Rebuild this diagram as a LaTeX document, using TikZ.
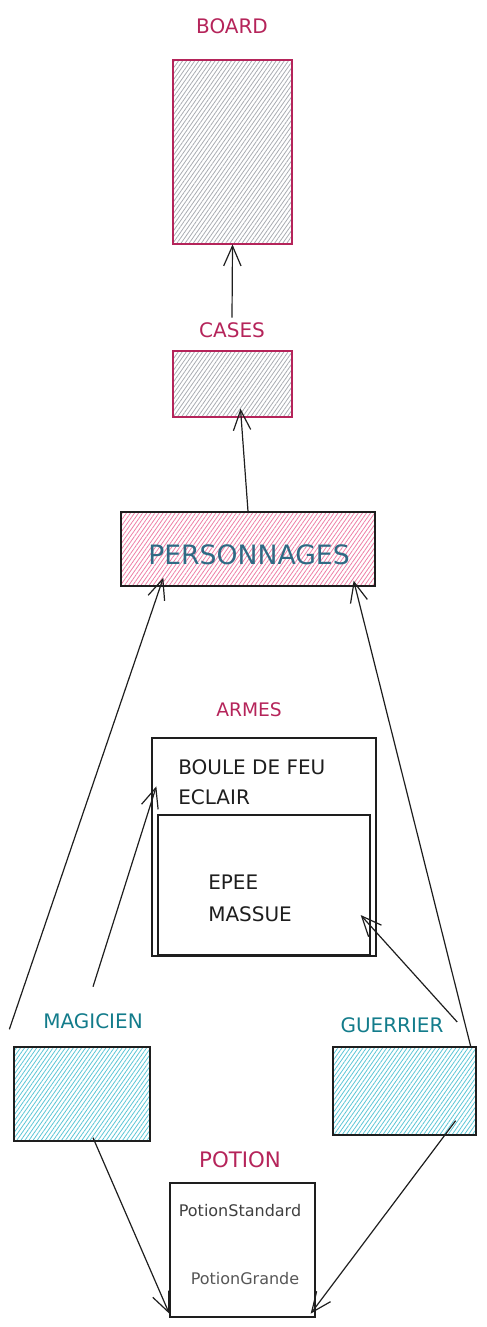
\documentclass[tikz,border=0pt]{standalone}
\usepackage{fontspec}
\setmainfont{DejaVu Sans}
\usetikzlibrary{calc,fit,patterns.meta,arrows.meta}
\definecolor{crimson}{HTML}{B5245A}
\definecolor{tealtxt}{HTML}{137C8B}
\definecolor{persotxt}{HTML}{2F6A84}
\definecolor{hatchgrey}{HTML}{A9ACB2}
\definecolor{hatchpink}{HTML}{EE7FA6}
\definecolor{hatchcyan}{HTML}{5CC6D6}
\definecolor{ink}{HTML}{1E1E1E}

\begin{document}
\begin{tikzpicture}[x=0.75pt,y=-0.75pt,>={Straight Barb[length=15pt,width=13pt]},
    box/.style={draw=ink,inner sep=0pt,line width=1pt},
    greyfill/.style={pattern={Lines[angle=55,distance=2.5pt,line width=0.6pt]},pattern color=hatchgrey},
    pinkfill/.style={pattern={Lines[angle=55,distance=2.5pt,line width=0.6pt]},pattern color=hatchpink},
    cyanfill/.style={pattern={Lines[angle=55,distance=2.5pt,line width=0.6pt]},pattern color=hatchcyan},
    title/.style={text=crimson,font=\fontsize{15}{17}\selectfont},
    role/.style={text=tealtxt,font=\fontsize{15}{17}\selectfont},
    item/.style={text=ink,font=\fontsize{15}{17}\selectfont,anchor=west,inner sep=0pt},
    small/.style={text=ink!85,font=\fontsize{12}{14}\selectfont,inner sep=0pt},
    arr/.style={->,draw=ink,line width=0.9pt}
  ]
    \useasboundingbox (0,0) rectangle (486,1327);

    \node[title] (boardlabel) at (232,26) {BOARD};
    \node[box,draw=crimson,greyfill,fit={(173,60) (292,244)}] (board) {};

    \node[title] (caseslabel) at (232,330) {CASES};
    \node[box,draw=crimson,greyfill,fit={(173,351) (292,417)}] (cases) {};

    \node[box,pinkfill,fit={(121,512) (375,586)}] (perso) {};
    \node[text=persotxt,font=\fontsize{20}{22}\selectfont] (persotext) at (249,555) {PERSONNAGES};

    \node[title,font=\fontsize{14}{16}\selectfont] (armeslabel) at (249,710) {ARMES};
    \node[box,fit={(152,738) (376,956)}] (armes) {};
    \node[box,fit={(158,815) (370,955)}] (armesbas) {};
    \node[item] (boule) at (178,767) {BOULE DE FEU};
    \node[item] (eclair) at (178,797) {ECLAIR};
    \node[item] (epee) at (208,882) {EPEE};
    \node[item] (massue) at (208,914) {MASSUE};

    \node[role] (maglabel) at (93,1021) {MAGICIEN};
    \node[box,cyanfill,fit={(14,1047) (150,1141)}] (magicien) {};
    \node[role] (guerlabel) at (392,1025) {GUERRIER};
    \node[box,cyanfill,fit={(333,1047) (476,1135)}] (guerrier) {};

    \node[title,font=\fontsize{16}{18}\selectfont] (potionlabel) at (240,1160) {POTION};
    \node[box,fit={(170,1183) (315,1317)}] (potion) {};
    \node[small] (pstandard) at (240,1211) {PotionStandard};
    \node[small,text=ink!75] (pgrande) at (245,1279) {PotionGrande};

    \path
    (caseslabel.north)                    edge[arr] (board.south)
    (perso.north)                         edge[arr] ($(cases.south)+(8,-9)$)
    ($(magicien.north west)+(-4,-17)$)    edge[arr] ($(perso.south west)+(43,-9)$)
    ($(maglabel.north)+(0,-22)$)          edge[arr] ($(armes.north west)+(5,49)$)
    ($(guerrier.north east)+(-6,0)$)      edge[arr] ($(perso.south east)+(-22,-6)$)
    ($(guerlabel.east)+(9,-3)$)           edge[arr] ($(armesbas.east)+(-10,30)$)
    ($(magicien.south)+(11,-4)$)          edge[arr] ($(potion.south west)+(0,-4)$)
    ($(guerrier.south east)+(-21,-15)$)   edge[arr] ($(potion.south east)+(-5,-4)$);
  \end{tikzpicture}
\end{document}
